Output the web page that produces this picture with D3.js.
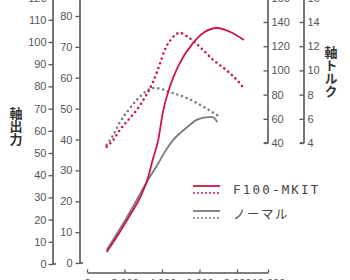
<!DOCTYPE html>
<html>
<head>
<meta charset="utf-8">
<script src="https://cdn.jsdelivr.net/npm/d3@7"></script>
<style>
body { margin: 0; background: #fff; }
svg { display: block; }
.tick text { font-family: "Liberation Sans", Arial, sans-serif; font-size: 11px; fill: #555; }
</style>
</head>
<body>
<script>
var width = 350;
var height = 280;

// rpm and readings
var mkitPowerRpm = [1050, 1650, 2300, 2850, 3250, 3500, 3800, 4050, 4450, 4950, 5650, 6200, 6950, 7650, 8450];
var mkitPower    = [5.4, 13.1, 22.1, 30.2, 38.7, 46.8, 55.9, 68.5, 80.6, 90.5, 99.5, 104.1, 106.3, 104.5, 100.9];
var normalPowerRpm = [1050, 1850, 2650, 3250, 3750, 4150, 4600, 5350, 5850, 6450, 6700, 6950];
var normalPower    = [6.3, 17.1, 28.8, 37.8, 44.6, 50.5, 55.9, 61.7, 64.9, 66.2, 66.2, 64.0];
var mkitTorqueRpm = [1050, 1400, 1750, 2200, 2650, 3100, 3500, 3900, 4150, 4450, 4950, 5350, 6050, 6700, 7450, 8000, 8450];
var mkitTorque    = [3.7, 4.25, 5.07, 5.9, 6.73, 7.8, 8.96, 10.6, 11.7, 12.5, 13.1, 12.8, 11.9, 10.9, 10.0, 9.2, 8.5];
var normalTorqueRpm = [1050, 1400, 1750, 2200, 2650, 3100, 3500, 4000, 4450, 5350, 6200, 6950];
var normalTorque    = [3.85, 4.65, 5.7, 6.7, 7.55, 8.2, 8.55, 8.45, 8.2, 7.7, 7.0, 6.3];

var psTicks = [0, 10, 20, 30, 40, 50, 60, 70, 80, 90, 100, 110, 120];
var kwTicks = [0, 10, 20, 30, 40, 50, 60, 70, 80];
var nmTicks = [40, 60, 80, 100, 120, 140, 160];
var kgfTicks = [4, 6, 8, 10, 12, 14, 16];
var rpmTicks = [0, 2000, 4000, 6000, 8000, 10000];
var legendLabels = ["F100-MKIT", "ノーマル"];

var red = "#cc1646";
var gray = "#7a7a7a";
var axisColor = "#555";

var svg = d3.select("body").append("svg")
    .attr("width", width)
    .attr("height", height);

var x = d3.scaleLinear().domain([0, 8000, 10000]).range([87, 237, 268]);
var yPs = d3.scaleLinear().domain([0, 120]).range([264, -2.4]);
var yKw = d3.scaleLinear().domain([0, 90]).range([263, -14.9]);
var yNm = d3.scaleLinear().domain([40, 160]).range([143, -2.2]);
var yKgf = d3.scaleLinear().domain([4, 16]).range([143, -2.2]);

function styleAxis(g) {
    g.select(".domain").attr("stroke", axisColor).attr("stroke-width", 1.6);
    g.selectAll(".tick line").attr("stroke", axisColor).attr("stroke-width", 1.3);
}

// left axes, ticks on the left, foot to the right
svg.append("g").attr("transform", "translate(52.5,0)")
    .call(d3.axisLeft(yPs).tickValues(psTicks).tickSize(4).tickSizeOuter(0).tickPadding(2))
    .call(styleAxis);
svg.append("line").attr("x1", 52.5).attr("x2", 56).attr("y1", yPs(0)).attr("y2", yPs(0))
    .attr("stroke", axisColor).attr("stroke-width", 1.6);

svg.append("g").attr("transform", "translate(79.5,0)")
    .call(d3.axisLeft(yKw).tickValues(kwTicks).tickSize(4).tickSizeOuter(0).tickPadding(3))
    .call(styleAxis);
svg.append("line").attr("x1", 79.5).attr("x2", 83).attr("y1", yKw(0)).attr("y2", yKw(0))
    .attr("stroke", axisColor).attr("stroke-width", 1.6);

// right axes, ticks on the left, labels on the right
function rightAxis(scale, ticks, xpos) {
    var g = svg.append("g").attr("transform", "translate(" + xpos + ",0)")
        .call(d3.axisRight(scale).tickValues(ticks).tickSize(0).tickSizeOuter(0).tickPadding(4))
        .call(styleAxis);
    g.selectAll(".tick").append("line")
        .attr("x1", -4).attr("x2", 0)
        .attr("stroke", axisColor).attr("stroke-width", 1.3);
    svg.append("line").attr("x1", xpos - 3.5).attr("x2", xpos)
        .attr("y1", scale.range()[0]).attr("y2", scale.range()[0])
        .attr("stroke", axisColor).attr("stroke-width", 1.6);
}
rightAxis(yNm, nmTicks, 267.5);
rightAxis(yKgf, kgfTicks, 303.5);

// rpm axis at the bottom
var xg = svg.append("g").attr("transform", "translate(0,272.5)")
    .call(d3.axisBottom(x).tickValues(rpmTicks).tickSize(-3).tickSizeOuter(0).tickPadding(7))
    .call(styleAxis);
xg.selectAll(".tick text").attr("font-size", 10);

// axis titles
svg.append("text")
    .attr("x", 16).attr("y", 107)
    .attr("font-family", "'Noto Sans CJK JP', sans-serif")
    .attr("font-size", 13).attr("font-weight", "bold").attr("fill", "#333")
    .style("writing-mode", "vertical-rl")
    .style("text-orientation", "upright")
    .text("軸出力");

svg.append("text")
    .attr("x", 331).attr("y", 46)
    .attr("font-family", "'Noto Sans CJK JP', sans-serif")
    .attr("font-size", 13).attr("font-weight", "bold").attr("fill", "#333")
    .style("writing-mode", "vertical-rl")
    .style("text-orientation", "upright")
    .text("軸トルク");

// curves
function series(rpms, vals) {
    return rpms.map(function(r, i) { return [r, vals[i]]; });
}
var powerLine = d3.line().x(function(d) { return x(d[0]); }).y(function(d) { return yPs(d[1]); }).curve(d3.curveMonotoneX);
var torqueLine = d3.line().x(function(d) { return x(d[0]); }).y(function(d) { return yKgf(d[1]); }).curve(d3.curveMonotoneX);

svg.append("path").attr("d", torqueLine(series(normalTorqueRpm, normalTorque)))
    .attr("fill", "none").attr("stroke", gray).attr("stroke-width", 2.6)
    .attr("stroke-dasharray", "0,5").attr("stroke-linecap", "round");
svg.append("path").attr("d", torqueLine(series(mkitTorqueRpm, mkitTorque)))
    .attr("fill", "none").attr("stroke", red).attr("stroke-width", 2.6)
    .attr("stroke-dasharray", "0,5").attr("stroke-linecap", "round");
svg.append("path").attr("d", powerLine(series(normalPowerRpm, normalPower)))
    .attr("fill", "none").attr("stroke", gray).attr("stroke-width", 1.8);
svg.append("path").attr("d", powerLine(series(mkitPowerRpm, mkitPower)))
    .attr("fill", "none").attr("stroke", red).attr("stroke-width", 1.8);

// legend
var legendColors = [red, gray];
var legend = svg.selectAll("g.legend")
    .data(legendLabels)
    .enter()
    .append("g")
    .attr("class", "legend")
    .attr("transform", function(d, i) { return "translate(193," + (186 + i * 25) + ")"; });
legend.append("line")
    .attr("x1", 0).attr("x2", 27).attr("y1", 0).attr("y2", 0)
    .attr("stroke", function(d, i) { return legendColors[i]; }).attr("stroke-width", 1.8);
legend.append("line")
    .attr("x1", 1).attr("x2", 27).attr("y1", 7).attr("y2", 7)
    .attr("stroke", function(d, i) { return legendColors[i]; }).attr("stroke-width", 2)
    .attr("stroke-dasharray", "0,4").attr("stroke-linecap", "round");
legend.append("text")
    .attr("x", 40).attr("y", 8)
    .attr("font-family", function(d, i) { return i == 0 ? "'DejaVu Sans Mono', monospace" : "'Noto Sans CJK JP', sans-serif"; })
    .attr("font-size", 12.5)
    .attr("letter-spacing", function(d, i) { return i == 0 ? 2.2 : 1.5; })
    .attr("fill", "#444")
    .text(function(d) { return d; });
</script>
</body>
</html>
